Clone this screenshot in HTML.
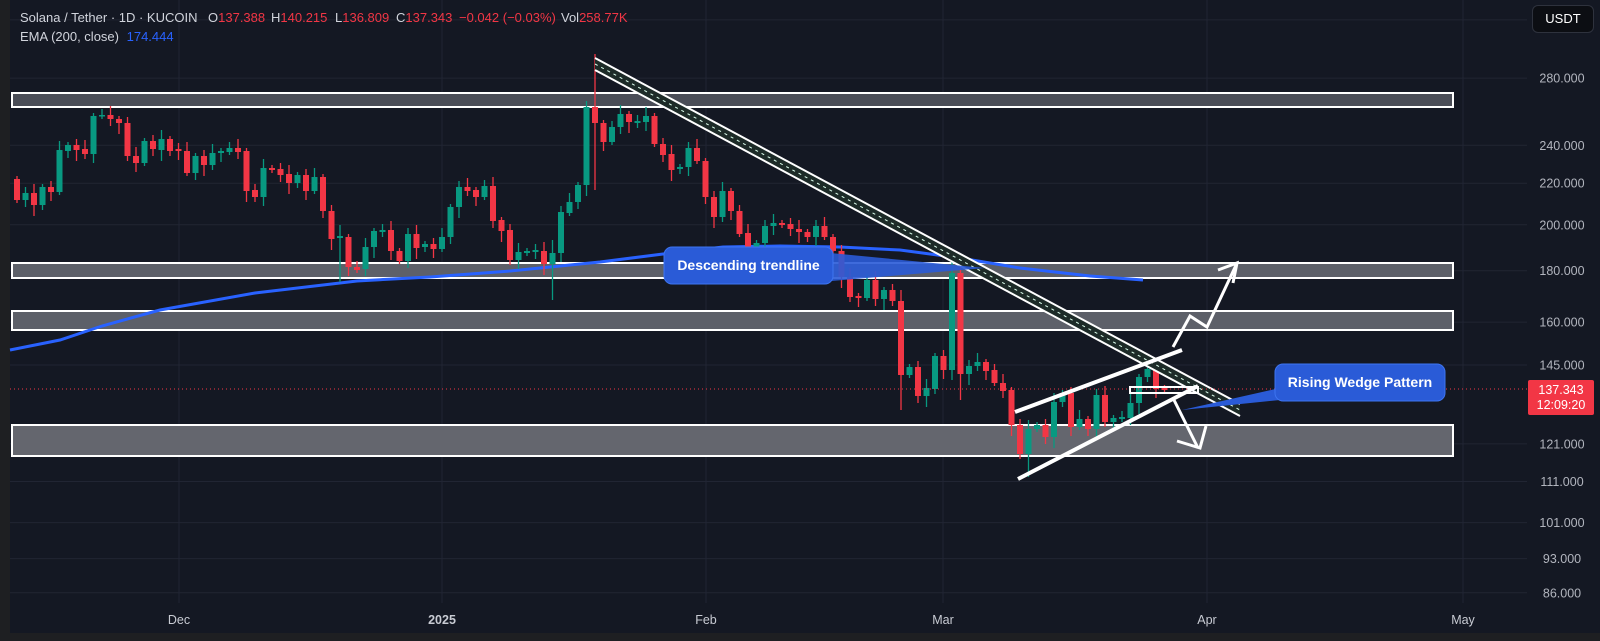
<!DOCTYPE html>
<html><head><meta charset="utf-8">
<style>
html,body{margin:0;padding:0;background:#1e1f22;width:1600px;height:641px;overflow:hidden}
#w{position:absolute;left:10px;top:0;width:1590px;height:633px;background:#141823}
svg{position:absolute;left:0;top:0}
.t{position:absolute;font-family:"Liberation Sans",sans-serif;font-size:13px;color:#d1d4dc;white-space:nowrap;line-height:16px}
.r{color:#f23645}
</style></head><body>
<div id="w"></div>
<svg id="s" width="1600" height="641" xmlns="http://www.w3.org/2000/svg" font-family="Liberation Sans, sans-serif"></svg>
<div class="t" style="left:20px;top:10px">Solana / Tether · 1D · KUCOIN</div>
<div class="t" style="left:208px;top:10px">O<span class="r">137.388</span></div>
<div class="t" style="left:271px;top:10px">H<span class="r">140.215</span></div>
<div class="t" style="left:335px;top:10px">L<span class="r">136.809</span></div>
<div class="t" style="left:396px;top:10px">C<span class="r">137.343</span></div>
<div class="t r" style="left:459px;top:10px">−0.042 (−0.03%)</div>
<div class="t" style="left:561px;top:10px">Vol<span class="r">258.77K</span></div>
<div class="t" style="left:20px;top:29px">EMA (200, close) <span style="color:#2962ff;margin-left:4px">174.444</span></div>
<div style="position:absolute;left:1532px;top:5px;width:62px;height:28px;background:#0c0e13;border:1px solid #2e323d;border-radius:6px;box-sizing:border-box;color:#fff;font:13px 'Liberation Sans',sans-serif;line-height:26px;text-align:center">USDT</div>
<script>
var s=document.getElementById('s'),h='';
function Y(p){return 365+(Math.log(145)-Math.log(p))*436;}
// grid
var lv=[320,280,240,220,200,180,160,145,121,111,101,93,86];
lv.forEach(function(p){var y=Y(p);h+='<line x1="10" x2="1527" y1="'+y+'" y2="'+y+'" stroke="#212533" stroke-width="1"/>';
 if(p!=320)h+='<text x="1562" y="'+(y+4.5)+'" fill="#b2b5be" font-size="12.5" text-anchor="middle">'+p+'.000</text>';});
var mx=[[179,'Dec'],[442,'2025'],[706,'Feb'],[943,'Mar'],[1207,'Apr'],[1463,'May']];
mx.forEach(function(m){h+='<line x1="'+m[0]+'" x2="'+m[0]+'" y1="0" y2="603" stroke="#212533"/>';
 h+='<text x="'+m[0]+'" y="624" fill="#c8cbd3" font-size="12.5" text-anchor="middle"'+(m[1]=='2025'?' font-weight="bold"':'')+'>'+m[1]+'</text>';});
// zones
function zone(y1,y2,f){h+='<rect x="12" y="'+y1+'" width="1441" height="'+(y2-y1)+'" fill="'+f+'" stroke="#fff" stroke-width="2"/>';}
zone(93,107,'#4a4d57');zone(263,278,'#5d6069');zone(311,330,'#5d6069');zone(425,456,'#64666e');
// EMA
h+='<polyline fill="none" stroke="#2962ff" stroke-width="3" points="10,350 60,340 102,326 160,310 255,293 357,281 430,277 510,271 600,262 663,254 723,247 780,246 840,247 900,250 960,258 1020,268 1090,276 1143,280"/>';
// candles
var c=[[179,200,0],[193,200,1],[193,205,0],[187,205,1],[187,192,0],[150,192,1],[145,151,1],[145,150,0],[149,154,0],[116,154,1],[115,116,1],[115,119,0],[119,123,0],[123,156,0],[156,163,0],[141,163,1],[141,149,0],[139,150,1],[139,151,0],[149,151,0],[151,173,0],[156,173,1],[156,165,0],[153,165,1],[151,153,1],[148,152,1],[148,152,0],[151,191,0],[190,197,0],[168,197,1],[168,170,0],[169,175,0],[174,183,0],[175,183,1],[175,191,0],[177,191,1],[177,211,0],[211,239,0],[236,238,1],[237,267,0],[267,270,0],[247,269,1],[231,247,1],[230,232,1],[230,251,0],[251,261,0],[234,261,1],[234,248,0],[244,247,1],[244,249,0],[237,249,1],[207,237,1],[187,207,1],[187,191,0],[190,197,0],[186,197,1],[186,221,0],[220,231,0],[230,260,0],[252,260,1],[251,253,1],[250,252,1],[251,264,0],[253,264,1],
[212,253,1],[202,213,1],[185,202,1],[107,185,1],[107,123,0],[123,142,0],[127,142,1],[114,127,1],[114,122,0],[121,123,1],[116,122,1],[116,144,0],[144,155,0],[154,170,0],[167,169,1],[148,167,1],[148,161,0],[161,197,0],[197,217,0],[191,217,1],[191,211,0],[211,234,0],[233,249,0],[243,249,1],[226,243,1],[223,226,1],[223,225,0],[224,229,0],[229,232,0],[232,237,0],[226,237,1],[226,237,0],[237,251,0],[251,277,0],[277,297,0],[296,298,0],[280,298,1],[280,299,0],[290,299,1],[290,301,0],
[301,375,0],[367,375,1],[367,396,0],[388,396,1],[356,389,1],[356,370,0],[273,370,1],[273,374,0],[366,374,1],[362,366,1],[362,371,0],[370,383,0],[383,391,0],[390,425,0],[425,454,0],[429,454,1],[425,429,1],[425,437,0],[402,437,1],[393,402,1],[393,427,0],[419,427,1],[419,429,0],[395,429,1],[395,422,0],[418,422,1],[417,419,1],[403,418,1],[377,403,1],[369,377,1],[369,389,0],[388,390,0]];
var wk={38:[225,282],63:[240,300],68:[54,190],110:[262,380],111:[262,400],119:[420,477],104:[290,410],136:[380,395]};
c.forEach(function(d,i){var x=17+8.5*i,t=d[0],b=d[1],col=d[2]?'#089981':'#f23645';
 var wt=t-3-(i%3)*3,wb=b+3+((i*7)%5)*2; if(wk[i]){wt=Math.min(wt,wk[i][0]);wb=Math.max(wb,wk[i][1]);}
 h+='<line x1="'+x+'" x2="'+x+'" y1="'+wt+'" y2="'+wb+'" stroke="'+col+'" stroke-width="1.3"/>';
 h+='<rect x="'+(x-3)+'" y="'+t+'" width="6" height="'+Math.max(b-t,1.5)+'" fill="'+col+'"/>';});
// descending trendline band
h+='<polygon points="595,58 1240,404 1240,416 595,70" fill="#1d2b28"/>';
h+='<line x1="595" y1="58" x2="1240" y2="404" stroke="#fff" stroke-width="2"/>';
h+='<line x1="595" y1="70" x2="1240" y2="416" stroke="#fff" stroke-width="2"/>';
h+='<line x1="595" y1="64" x2="1240" y2="410" stroke="#dfe" stroke-width="1" stroke-dasharray="3,4"/>';
// dotted last price line
h+='<line x1="10" x2="1527" y1="389" y2="389" stroke="#f23645" stroke-width="1" stroke-dasharray="1,3"/>';
// label 1
h+='<polygon points="820,252 985,268 820,282" fill="#2a5bd7" opacity="0.9"/>';
h+='<rect x="664" y="247" width="169" height="37" rx="8" fill="#2a5bd7" stroke="#3d74f0"/>';
h+='<text x="748.5" y="270" fill="#fff" font-size="14" font-weight="bold" text-anchor="middle">Descending trendline</text>';
// wedge lines
h+='<line x1="1015" y1="412" x2="1182" y2="350" stroke="#fff" stroke-width="4"/>';
h+='<line x1="1018" y1="479" x2="1198" y2="386" stroke="#fff" stroke-width="4"/>';
h+='<rect x="1130" y="387" width="68" height="6" fill="none" stroke="#fff" stroke-width="2"/>';
// arrows
h+='<polyline points="1173,347 1190,316 1207,327 1237,263" fill="none" stroke="#fff" stroke-width="3"/>';
h+='<polyline points="1218,270 1237,263 1233,283" fill="none" stroke="#fff" stroke-width="3"/>';
h+='<line x1="1173" y1="398" x2="1198" y2="448" stroke="#fff" stroke-width="3"/>';
h+='<polyline points="1177,441 1200,448 1206,426" fill="none" stroke="#fff" stroke-width="3"/>';
// label 2
h+='<polygon points="1182,410 1280,388 1280,400" fill="#2a5bd7"/>';
h+='<rect x="1275" y="364" width="170" height="37" rx="8" fill="#2a5bd7" stroke="#3d74f0"/>';
h+='<text x="1360" y="387" fill="#fff" font-size="14" font-weight="bold" text-anchor="middle">Rising Wedge Pattern</text>';
// price tag
h+='<rect x="1528" y="380" width="66" height="35" rx="2" fill="#f23645"/>';
h+='<text x="1561" y="394" fill="#fff" font-size="12.5" text-anchor="middle">137.343</text>';
h+='<text x="1561" y="409" fill="#fff" font-size="12.5" text-anchor="middle">12:09:20</text>';
s.innerHTML=h;
</script>
</body></html>
